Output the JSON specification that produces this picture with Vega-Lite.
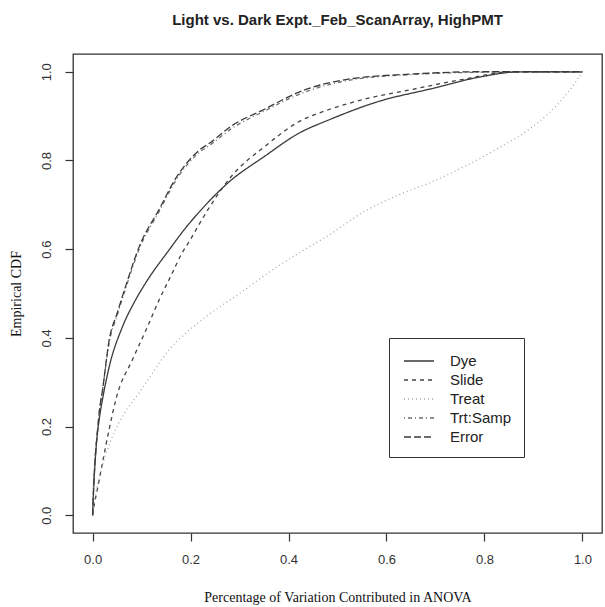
{
  "$schema": "https://vega.github.io/schema/vega-lite/v6.json",
  "width": 529,
  "height": 479,
  "autosize": {"type": "none"},
  "padding": {"left": 73, "top": 54, "right": 3, "bottom": 74},
  "background": "white",
  "title": {
    "text": "Light vs. Dark Expt._Feb_ScanArray, HighPMT",
    "font": "Liberation Sans",
    "fontSize": 15,
    "fontWeight": "bold",
    "color": "#222",
    "anchor": "middle",
    "offset": 26
  },
  "config": {
    "view": {"stroke": "#333", "strokeWidth": 1.3},
    "axis": {
      "grid": false,
      "domain": false,
      "tickColor": "#333",
      "tickSize": 8,
      "tickWidth": 1.2,
      "labelFont": "Liberation Sans",
      "labelFontSize": 13,
      "labelColor": "#333",
      "titleFont": "Liberation Serif",
      "titleFontSize": 14,
      "titleFontWeight": "normal",
      "titleColor": "#111"
    }
  },
  "data": {
    "values": [
      {"term": "Dye", "x": 0, "y": 0},
      {"term": "Dye", "x": 0.003, "y": 0.08},
      {"term": "Dye", "x": 0.007, "y": 0.15},
      {"term": "Dye", "x": 0.014, "y": 0.22},
      {"term": "Dye", "x": 0.02, "y": 0.26},
      {"term": "Dye", "x": 0.034, "y": 0.335},
      {"term": "Dye", "x": 0.061, "y": 0.425},
      {"term": "Dye", "x": 0.085, "y": 0.48},
      {"term": "Dye", "x": 0.109, "y": 0.525},
      {"term": "Dye", "x": 0.156, "y": 0.598},
      {"term": "Dye", "x": 0.19, "y": 0.648},
      {"term": "Dye", "x": 0.217, "y": 0.683},
      {"term": "Dye", "x": 0.277, "y": 0.75},
      {"term": "Dye", "x": 0.352, "y": 0.81},
      {"term": "Dye", "x": 0.419, "y": 0.86},
      {"term": "Dye", "x": 0.486, "y": 0.893},
      {"term": "Dye", "x": 0.587, "y": 0.934},
      {"term": "Dye", "x": 0.689, "y": 0.961},
      {"term": "Dye", "x": 0.79, "y": 0.988},
      {"term": "Dye", "x": 0.858, "y": 0.999},
      {"term": "Dye", "x": 0.9, "y": 1},
      {"term": "Dye", "x": 1, "y": 1},
      {"term": "Slide", "x": 0, "y": 0},
      {"term": "Slide", "x": 0.004, "y": 0.027},
      {"term": "Slide", "x": 0.01, "y": 0.06},
      {"term": "Slide", "x": 0.02, "y": 0.117},
      {"term": "Slide", "x": 0.035, "y": 0.2},
      {"term": "Slide", "x": 0.049, "y": 0.267},
      {"term": "Slide", "x": 0.081, "y": 0.35},
      {"term": "Slide", "x": 0.11, "y": 0.42},
      {"term": "Slide", "x": 0.136, "y": 0.486},
      {"term": "Slide", "x": 0.16, "y": 0.54},
      {"term": "Slide", "x": 0.182, "y": 0.59},
      {"term": "Slide", "x": 0.2, "y": 0.622},
      {"term": "Slide", "x": 0.217, "y": 0.655},
      {"term": "Slide", "x": 0.284, "y": 0.765},
      {"term": "Slide", "x": 0.352, "y": 0.832},
      {"term": "Slide", "x": 0.419, "y": 0.886},
      {"term": "Slide", "x": 0.486, "y": 0.916},
      {"term": "Slide", "x": 0.555, "y": 0.938},
      {"term": "Slide", "x": 0.656, "y": 0.961},
      {"term": "Slide", "x": 0.757, "y": 0.983},
      {"term": "Slide", "x": 0.858, "y": 1},
      {"term": "Slide", "x": 1, "y": 1},
      {"term": "Treat", "x": 0, "y": 0},
      {"term": "Treat", "x": 0.005, "y": 0.04},
      {"term": "Treat", "x": 0.014, "y": 0.086},
      {"term": "Treat", "x": 0.025, "y": 0.13},
      {"term": "Treat", "x": 0.04, "y": 0.176},
      {"term": "Treat", "x": 0.065, "y": 0.23},
      {"term": "Treat", "x": 0.095, "y": 0.276},
      {"term": "Treat", "x": 0.125, "y": 0.325},
      {"term": "Treat", "x": 0.156, "y": 0.373},
      {"term": "Treat", "x": 0.195, "y": 0.415},
      {"term": "Treat", "x": 0.237, "y": 0.452},
      {"term": "Treat", "x": 0.3, "y": 0.5},
      {"term": "Treat", "x": 0.35, "y": 0.54},
      {"term": "Treat", "x": 0.419, "y": 0.59},
      {"term": "Treat", "x": 0.48, "y": 0.63},
      {"term": "Treat", "x": 0.555, "y": 0.685},
      {"term": "Treat", "x": 0.62, "y": 0.72},
      {"term": "Treat", "x": 0.689, "y": 0.75},
      {"term": "Treat", "x": 0.757, "y": 0.785},
      {"term": "Treat", "x": 0.824, "y": 0.825},
      {"term": "Treat", "x": 0.891, "y": 0.87},
      {"term": "Treat", "x": 0.93, "y": 0.905},
      {"term": "Treat", "x": 0.959, "y": 0.938},
      {"term": "Treat", "x": 0.985, "y": 0.975},
      {"term": "Treat", "x": 1, "y": 1},
      {"term": "Trt:Samp", "x": 0, "y": 0},
      {"term": "Trt:Samp", "x": 0.002, "y": 0.07},
      {"term": "Trt:Samp", "x": 0.005, "y": 0.13},
      {"term": "Trt:Samp", "x": 0.01, "y": 0.19},
      {"term": "Trt:Samp", "x": 0.014, "y": 0.235},
      {"term": "Trt:Samp", "x": 0.02, "y": 0.28},
      {"term": "Trt:Samp", "x": 0.034, "y": 0.39},
      {"term": "Trt:Samp", "x": 0.05, "y": 0.45},
      {"term": "Trt:Samp", "x": 0.07, "y": 0.52},
      {"term": "Trt:Samp", "x": 0.095, "y": 0.6},
      {"term": "Trt:Samp", "x": 0.136, "y": 0.685},
      {"term": "Trt:Samp", "x": 0.17, "y": 0.755},
      {"term": "Trt:Samp", "x": 0.22, "y": 0.82},
      {"term": "Trt:Samp", "x": 0.24, "y": 0.835},
      {"term": "Trt:Samp", "x": 0.284, "y": 0.872},
      {"term": "Trt:Samp", "x": 0.352, "y": 0.912},
      {"term": "Trt:Samp", "x": 0.419, "y": 0.948},
      {"term": "Trt:Samp", "x": 0.52, "y": 0.98},
      {"term": "Trt:Samp", "x": 0.656, "y": 0.994},
      {"term": "Trt:Samp", "x": 0.79, "y": 0.999},
      {"term": "Trt:Samp", "x": 0.85, "y": 1},
      {"term": "Trt:Samp", "x": 1, "y": 1},
      {"term": "Error", "x": 0, "y": 0},
      {"term": "Error", "x": 0.002, "y": 0.06},
      {"term": "Error", "x": 0.005, "y": 0.12},
      {"term": "Error", "x": 0.01, "y": 0.19},
      {"term": "Error", "x": 0.014, "y": 0.237},
      {"term": "Error", "x": 0.02, "y": 0.28},
      {"term": "Error", "x": 0.034, "y": 0.396},
      {"term": "Error", "x": 0.05, "y": 0.455},
      {"term": "Error", "x": 0.07, "y": 0.525},
      {"term": "Error", "x": 0.095, "y": 0.605},
      {"term": "Error", "x": 0.136, "y": 0.69},
      {"term": "Error", "x": 0.17, "y": 0.76},
      {"term": "Error", "x": 0.22, "y": 0.825},
      {"term": "Error", "x": 0.24, "y": 0.84},
      {"term": "Error", "x": 0.284, "y": 0.878},
      {"term": "Error", "x": 0.352, "y": 0.916},
      {"term": "Error", "x": 0.419, "y": 0.953},
      {"term": "Error", "x": 0.52, "y": 0.983},
      {"term": "Error", "x": 0.656, "y": 0.995},
      {"term": "Error", "x": 0.79, "y": 1},
      {"term": "Error", "x": 1, "y": 1}
    ]
  },
  "mark": {"type": "line", "strokeWidth": 1.3, "interpolate": "monotone", "clip": true},
  "encoding": {
    "x": {
      "field": "x",
      "type": "quantitative",
      "scale": {"domain": [-0.04, 1.04], "nice": false, "zero": false},
      "axis": {
        "values": [0, 0.2, 0.4, 0.6, 0.8, 1],
        "format": ".1f",
        "labelPadding": 12,
        "title": "Percentage of Variation Contributed in ANOVA",
        "titlePadding": 24
      }
    },
    "y": {
      "field": "y",
      "type": "quantitative",
      "scale": {"domain": [-0.04, 1.04], "nice": false, "zero": false},
      "axis": {
        "values": [0, 0.2, 0.4, 0.6, 0.8, 1],
        "format": ".1f",
        "labelAngle": -90,
        "labelAlign": "center",
        "labelBaseline": "bottom",
        "labelPadding": 12,
        "title": "Empirical CDF",
        "titlePadding": 17
      }
    },
    "color": {
      "field": "term",
      "type": "nominal",
      "scale": {
        "domain": ["Dye", "Slide", "Treat", "Trt:Samp", "Error"],
        "range": ["#3a3a3a", "#444444", "#a8a8a8", "#6e6e6e", "#3a3a3a"]
      },
      "legend": {
        "title": null,
        "orient": "none",
        "legendX": 316,
        "legendY": 284,
        "strokeColor": "#333",
        "padding": 12,
        "symbolType": "M-0.8,0L2.2,0",
        "symbolSize": 400,
        "symbolStrokeWidth": 1.3,
        "labelFont": "Liberation Sans",
        "labelFontSize": 15,
        "labelColor": "#222",
        "labelOffset": 27,
        "rowPadding": -1,
        "labelLimit": 200
      }
    },
    "strokeDash": {
      "field": "term",
      "type": "nominal",
      "scale": {
        "domain": ["Dye", "Slide", "Treat", "Trt:Samp", "Error"],
        "range": [[1, 0], [4, 4], [1, 3], [1, 3, 4, 3], [7, 3]]
      },
      "legend": null
    }
  }
}
